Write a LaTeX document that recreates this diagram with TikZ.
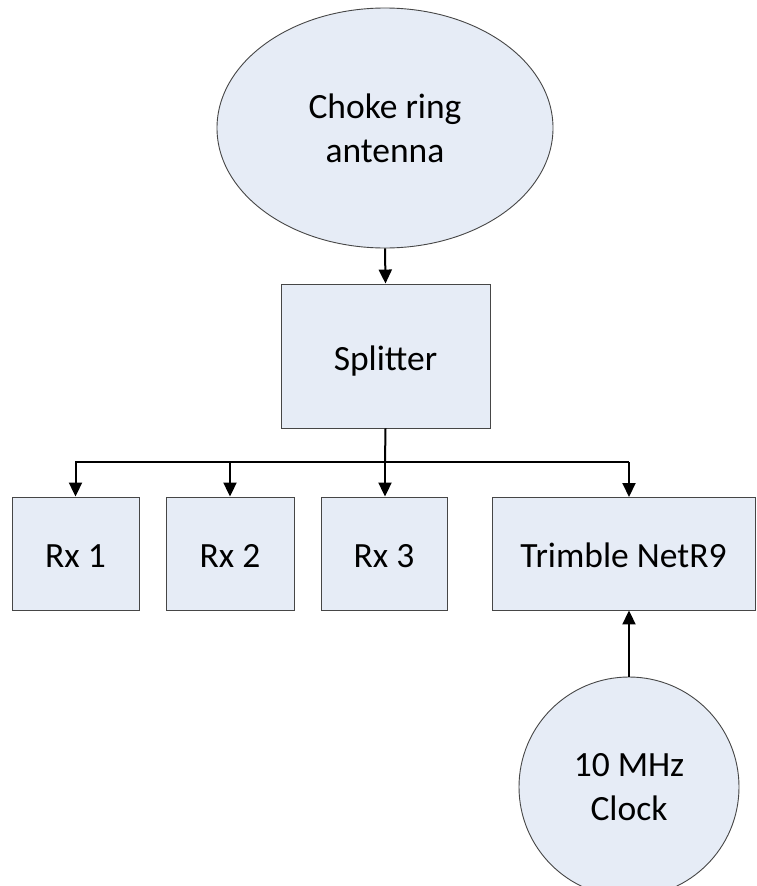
\documentclass[tikz,border=0pt]{standalone}
\usepackage{fontspec}
\setmainfont{Carlito}
\usetikzlibrary{shapes.geometric,arrows.meta}
\definecolor{boxfill}{RGB}{230,236,246}
\definecolor{boxline}{RGB}{70,70,70}
\begin{document}
\begin{tikzpicture}[x=1pt,y=-1pt,
  every node/.style={font=\fontsize{35.5}{44}\selectfont, align=center, text=black},
  blk/.style={draw=boxline, fill=boxfill, line width=0.9pt, rectangle, inner sep=0pt, text height=30pt, text depth=2pt},
  conn/.style={draw=black, line width=2pt, -{Triangle[length=14pt,width=13pt]}}]
\useasboundingbox (0,0) rectangle (756,886);
\fill[white] (0,0) rectangle (756,886);
\node[draw=boxline, fill=boxfill, line width=0.9pt, ellipse, minimum width=336pt, minimum height=240pt, inner sep=0pt] (ant) at (385,128) {Choke ring\\antenna};
\node[blk, minimum width=209pt, minimum height=144pt] (spl) at (385.5,356) {Splitter};
\node[blk, minimum width=127pt, minimum height=113pt] (rx1) at (75.5,553.5) {Rx 1};
\node[blk, minimum width=128pt, minimum height=113pt] (rx2) at (230,553.5) {Rx 2};
\node[blk, minimum width=126pt, minimum height=113pt] (rx3) at (384,553.5) {Rx 3};
\node[blk, minimum width=263pt, minimum height=113pt] (trm) at (623.5,553.5) {Trimble NetR9};
\node[draw=boxline, fill=boxfill, line width=0.9pt, circle, minimum size=220pt, inner sep=0pt] (clk) at (629,787) {10 MHz\\Clock};
\coordinate (br) at (385,462);
\draw[conn] (ant.south) -- (spl.north);
\draw[line width=2pt] (spl.south) -- (br);
\draw[line width=2pt] (75,462) -- (629,462);
\draw[conn] (br -| rx1.north) -- (rx1.north);
\draw[conn] (br -| rx2.north) -- (rx2.north);
\draw[conn] (br) -- (br |- rx3.north);
\draw[conn] (629,462) -- (629,497);
\draw[conn] (clk.north) -- (clk.north |- trm.south);
\end{tikzpicture}
\end{document}
